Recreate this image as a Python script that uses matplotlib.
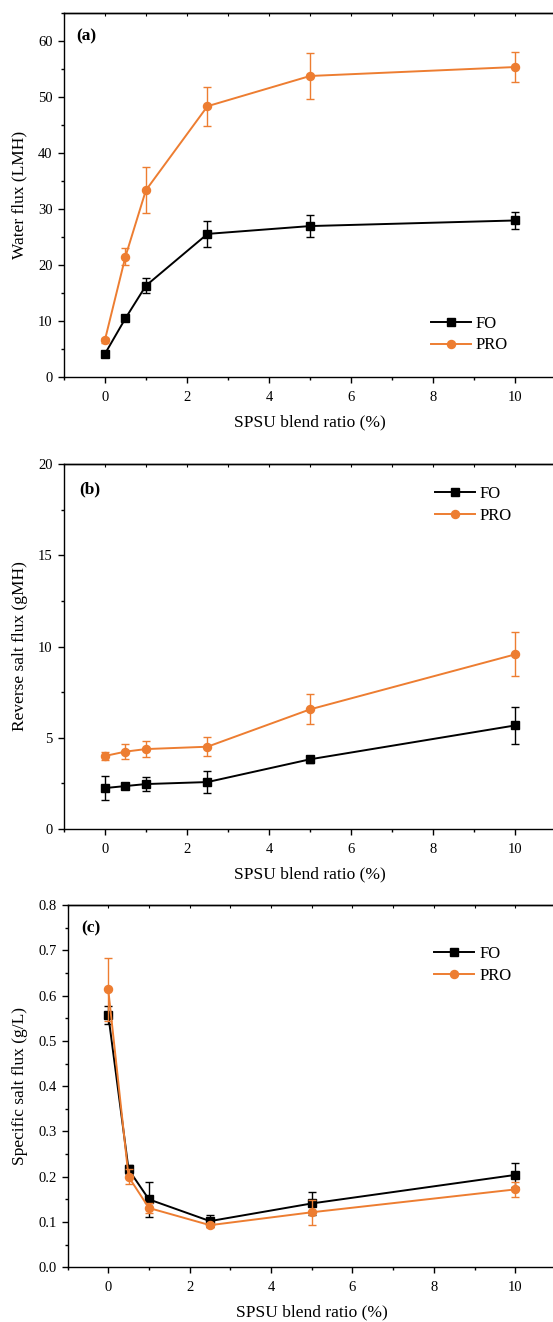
import matplotlib
matplotlib.use("Agg")
import matplotlib.pyplot as plt
from matplotlib.ticker import MultipleLocator, FormatStrFormatter

plt.rcParams['font.family'] = ['Liberation Serif', 'DejaVu Serif']
plt.rcParams['mathtext.fontset'] = 'stix'

# ---------------- data ----------------
blend_ratio = [0, 0.5, 1, 2.5, 5, 10]

fo_water = [4.05, 10.4, 16.25, 25.5, 26.9, 27.9]
fo_water_err = [0.6, 0.4, 1.3, 2.35, 2.0, 1.5]
pro_water = [6.5, 21.4, 33.3, 48.3, 53.7, 55.3]
pro_water_err = [0.5, 1.5, 4.1, 3.45, 4.15, 2.7]

fo_rsf = [2.23, 2.34, 2.45, 2.56, 3.81, 5.67]
fo_rsf_err = [0.68, 0.15, 0.4, 0.62, 0.2, 1.03]
pro_rsf = [3.99, 4.23, 4.37, 4.50, 6.55, 9.57]
pro_rsf_err = [0.2, 0.4, 0.45, 0.51, 0.83, 1.21]

fo_ssf = [0.558, 0.216, 0.150, 0.102, 0.141, 0.204]
fo_ssf_err = [0.02, 0.01, 0.039, 0.013, 0.025, 0.027]
pro_ssf = [0.614, 0.200, 0.131, 0.093, 0.1215, 0.172]
pro_ssf_err = [0.07, 0.017, 0.01, 0.005, 0.027, 0.017]

series_labels = ['FO', 'PRO']
panel_labels = ['(a)', '(b)', '(c)']
y_labels = ['Water flux (LMH)', 'Reverse salt flux (gMH)', 'Specific salt flux (g/L)']
x_label = 'SPSU blend ratio (%)'

# ---------------- style ----------------
BLACK = '#000000'
ORANGE = '#ED7D31'

W, H = 553, 1322
fig = plt.figure(figsize=(W / 100, H / 100), dpi=100)

def frac_rect(left_px, right_px, top_px, bottom_px):
    return [left_px / W, 1 - bottom_px / H, (right_px - left_px) / W, (bottom_px - top_px) / H]

rects = [
    frac_rect(63.8, 556.4, 12.7, 376.7),
    frac_rect(63.8, 556.4, 464.3, 828.7),
    frac_rect(67.5, 556.0, 905.0, 1267.3),
]
ylims = [(0, 65), (0, 20), (0, 0.8)]
ymajor = [10, 5, 0.1]
yminor = [5, 2.5, 0.05]
legend_anchor = [(0.745, 0.168), (0.753, 0.940), (0.751, 0.886)]
panel_xy = [(0.026, 0.936), (0.032, 0.931), (0.029, 0.936)]

datasets = [
    (fo_water, fo_water_err, pro_water, pro_water_err),
    (fo_rsf, fo_rsf_err, pro_rsf, pro_rsf_err),
    (fo_ssf, fo_ssf_err, pro_ssf, pro_ssf_err),
]

for i, (rect, (fo, foe, pro, proe)) in enumerate(zip(rects, datasets)):
    ax = fig.add_axes(rect)
    for y, e, c, m, ms, lab in [(fo, foe, BLACK, 's', 5.4, series_labels[0]),
                                 (pro, proe, ORANGE, 'o', 5.8, series_labels[1])]:
        ax.errorbar(blend_ratio, y, yerr=e, fmt='none', ecolor=c, elinewidth=1.0,
                    capsize=3.2, capthick=1.0)
        ax.plot(blend_ratio, y, color=c, lw=1.4, marker=m, ms=ms, mfc=c, mec=c,
                label=lab)

    ax.set_xlim(-1, 11)
    ax.set_ylim(*ylims[i])
    ax.xaxis.set_major_locator(MultipleLocator(2))
    ax.xaxis.set_minor_locator(MultipleLocator(1))
    ax.yaxis.set_major_locator(MultipleLocator(ymajor[i]))
    ax.yaxis.set_minor_locator(MultipleLocator(yminor[i]))
    if i == 2:
        ax.yaxis.set_major_formatter(FormatStrFormatter('%.1f'))

    ax.spines['right'].set_visible(False)
    for s in ['left', 'bottom', 'top']:
        ax.spines[s].set_linewidth(1.0)
    ax.tick_params(which='major', direction='out', length=4.5, width=1.0,
                   labelsize=10.5, pad=3.5)
    ax.tick_params(axis='x', which='major', pad=5.5)
    ax.tick_params(which='minor', direction='out', length=2.5, width=1.0)

    sec = ax.secondary_xaxis('top')
    sec.xaxis.set_major_locator(MultipleLocator(1))
    sec.tick_params(which='major', direction='in', length=2.5, width=0.8,
                    labelsize=0, labeltop=False)
    sec.spines['top'].set_linewidth(1.0)

    ax.set_ylabel(y_labels[i], fontsize=12.5)
    ax.yaxis.set_label_coords(-0.073 if i < 2 else -0.080, 0.5)
    ax.set_xlabel(x_label, fontsize=12.5)
    ax.xaxis.set_label_coords(0.5, -0.103)

    ax.text(panel_xy[i][0], panel_xy[i][1], panel_labels[i], transform=ax.transAxes,
            fontsize=12.5, fontweight='bold', ha='left', va='center')

    ax.legend(loc='upper left', bbox_to_anchor=legend_anchor[i], frameon=False,
              fontsize=12, borderpad=0, borderaxespad=0, handlelength=2.4,
              handletextpad=0.3, labelspacing=0.35)

fig.savefig('out.png', dpi=100)
